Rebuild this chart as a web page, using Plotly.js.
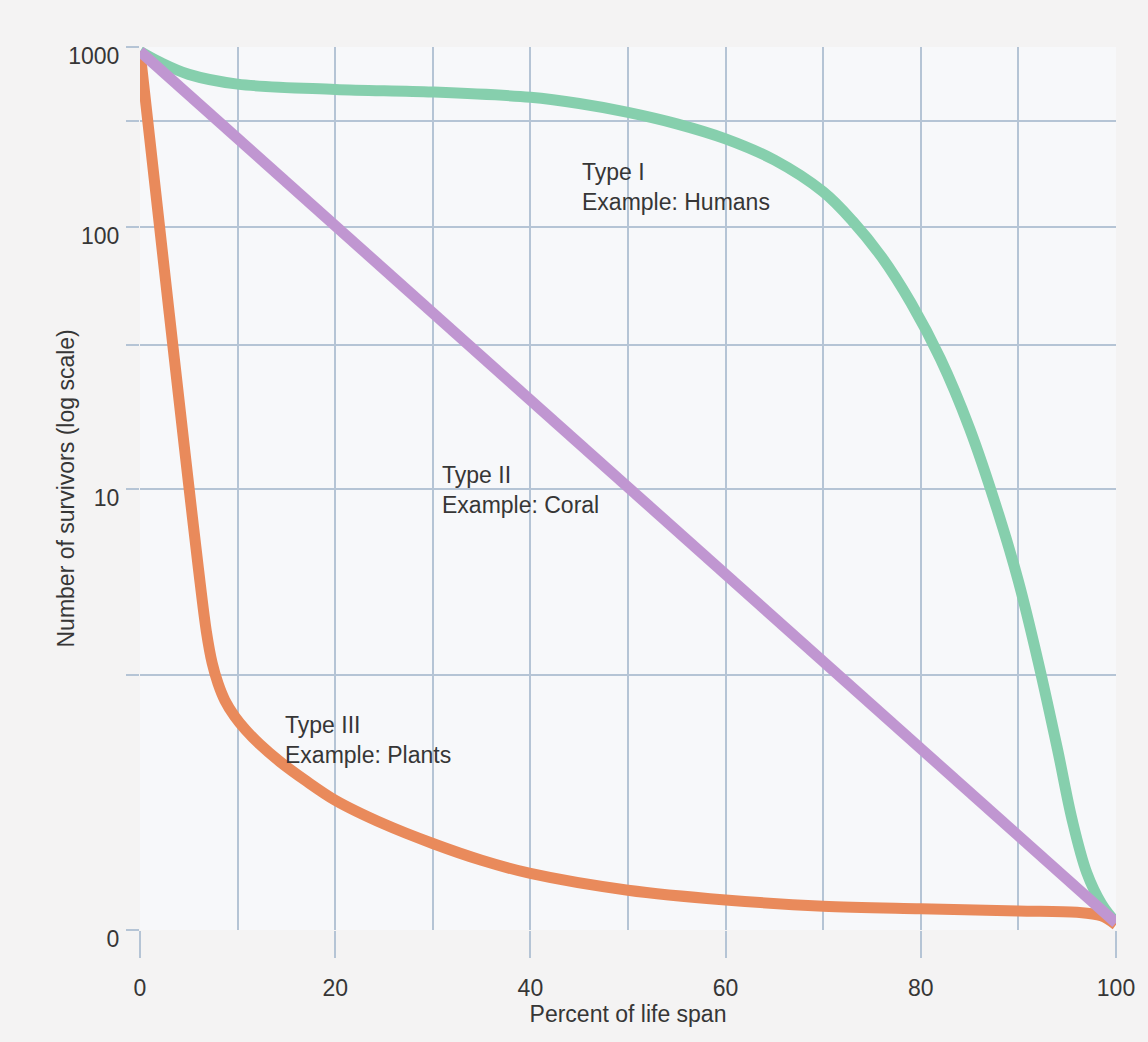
<!DOCTYPE html>
<html>
<head>
<meta charset="utf-8">
<script src="https://cdn.plot.ly/plotly-3.0.1.min.js"></script>
<style>
  html, body { margin: 0; padding: 0; background: #f4f3f3; }
  #chart { width: 1148px; height: 1042px; }
</style>
</head>
<body>
<div id="chart"></div>
<script>
// Percent of life span (x)
const lifeSpanX_TypeI = [0, 2, 5, 10, 20, 30, 40, 45, 50, 55, 60, 65, 70, 73, 76, 79, 82, 85, 88, 90, 92, 94, 95.5, 97, 98.5, 100];
// Position on the figure's hand-drawn log survivor scale (0 = "0", 49.9 = "10", 79.6 = "100", 100 = "1000")
const survivorScale_TypeI = [99.5, 98.3, 96.9, 95.8, 95.2, 94.9, 94.3, 93.6, 92.6, 91.3, 89.6, 87.2, 83.6, 80.3, 76.2, 71.0, 64.7, 56.8, 47.0, 39.5, 30.5, 20.5, 12.5, 6.5, 3.0, 0.8];

const lifeSpanX_TypeII = [0, 100];
const survivorScale_TypeII = [99.5, 0.8];

const lifeSpanX_TypeIII = [0, 1, 2, 3, 4, 5, 6, 6.8, 7.4, 8.0, 8.7, 9.7, 10.8, 12.3, 14.3, 17, 20, 25, 30, 35, 40, 50, 60, 70, 80, 90, 96, 98.5, 100];
const survivorScale_TypeIII = [99.5, 89.6, 79.7, 69.8, 60.0, 50.3, 40.8, 33.8, 30.2, 27.9, 26.0, 24.2, 22.7, 21.0, 19.1, 16.9, 14.7, 12.0, 9.8, 7.9, 6.4, 4.5, 3.4, 2.7, 2.4, 2.15, 2.0, 1.6, 0.6];

// Axis ticks
const yTickVals = [0, 28.9, 49.9, 66.3, 79.6, 91.6, 100];
const yTickText = ['0', '', '10', '', '100', '', '1000'];
const xTickVals = [0, 20, 40, 60, 80, 100];
const xTickText = ['0', '20', '40', '60', '80', '100'];

const seriesNames = ['Type I', 'Type II', 'Type III'];
const seriesLabels = ['Type I<br>Example: Humans', 'Type II<br>Example: Coral', 'Type III<br>Example: Plants'];
const labelX = [45.1, 30.7, 14.65];
const labelY = [84.1, 49.8, 21.5];

const FONT = '"Liberation Sans", Arial, Helvetica, sans-serif';
const GRID = '#b5c4d5';
const TEXT = '#363636';

const traces = [
  { x: lifeSpanX_TypeI, y: survivorScale_TypeI, name: seriesNames[0], mode: 'lines',
    line: { color: '#86cfad', width: 11, shape: 'spline', smoothing: 1.0 } },
  { x: lifeSpanX_TypeIII, y: survivorScale_TypeIII, name: seriesNames[2], mode: 'lines',
    line: { color: '#e98a5b', width: 11, shape: 'spline', smoothing: 0.9 } },
  { x: lifeSpanX_TypeII, y: survivorScale_TypeII, name: seriesNames[1], mode: 'lines',
    line: { color: '#c096d1', width: 11 } }
];

const annotations = seriesLabels.map((t, i) => ({
  x: labelX[i], y: labelY[i], xref: 'x', yref: 'y', text: t, showarrow: false,
  xanchor: 'left', yanchor: 'middle', align: 'left',
  font: { family: FONT, size: 23, color: TEXT }
}));
annotations.push({
  x: 0, y: 0.5, xref: 'paper', yref: 'paper', xshift: -75, xanchor: 'center', yanchor: 'middle',
  text: 'Number of survivors (log scale)', textangle: -90, showarrow: false,
  font: { family: FONT, size: 23, color: TEXT }
});

const layout = {
  width: 1148, height: 1042,
  margin: { l: 140, r: 32, t: 47, b: 112 },
  paper_bgcolor: '#f4f3f3',
  plot_bgcolor: '#f7f8fa',
  showlegend: false,
  font: { family: FONT, color: TEXT },
  xaxis: {
    range: [0, 100], tickvals: xTickVals, ticktext: xTickText,
    ticks: 'outside', ticklen: 27, tickwidth: 2, tickcolor: GRID,
    showgrid: true, gridcolor: GRID, gridwidth: 2,
    minor: { dtick: 10, tick0: 0, showgrid: true, gridcolor: GRID, gridwidth: 2, ticks: '' },
    zeroline: false, showline: false,
    tickfont: { family: FONT, size: 23, color: TEXT },
    ticklabelstandoff: 10,
    title: { text: 'Percent of life span', font: { family: FONT, size: 23, color: TEXT }, standoff: 2 }
  },
  yaxis: {
    range: [0, 100], tickvals: yTickVals, ticktext: yTickText,
    ticks: 'outside', ticklen: 13, tickwidth: 2, tickcolor: GRID,
    showgrid: true, gridcolor: GRID, gridwidth: 2,
    zeroline: false, showline: false,
    tickfont: { family: FONT, size: 23, color: TEXT },
    ticklabelshift: 9, ticklabelstandoff: 2
  },
  annotations: annotations
};

Plotly.newPlot('chart', traces, layout, { displayModeBar: false, staticPlot: true });
</script>
</body>
</html>
